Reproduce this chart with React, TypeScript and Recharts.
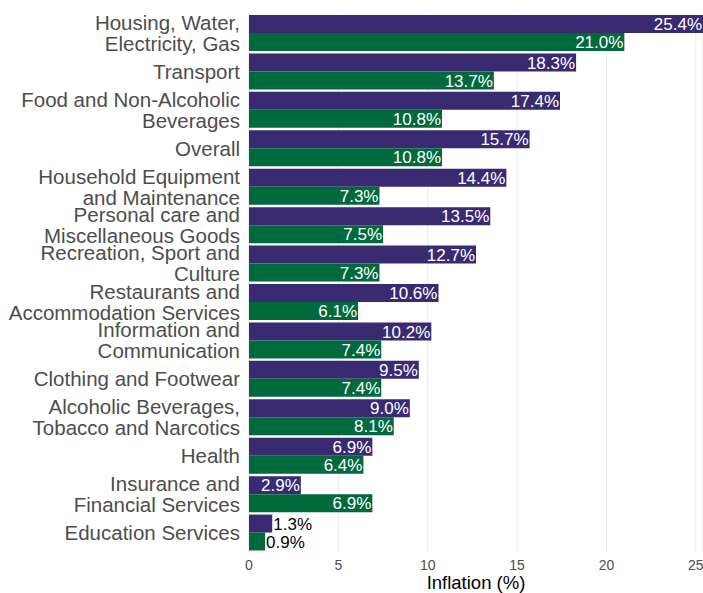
import React from "react"
import {
  BarChart,
  Bar,
  XAxis,
  YAxis,
  CartesianGrid,
  LabelList,
  Label,
} from "recharts"

// categories, top to bottom
const categories = [
  "Housing, Water,\nElectricity, Gas",
  "Transport",
  "Food and Non-Alcoholic\nBeverages",
  "Overall",
  "Household Equipment\nand Maintenance",
  "Personal care and\nMiscellaneous Goods",
  "Recreation, Sport and\nCulture",
  "Restaurants and\nAccommodation Services",
  "Information and\nCommunication",
  "Clothing and Footwear",
  "Alcoholic Beverages,\nTobacco and Narcotics",
  "Health",
  "Insurance and\nFinancial Services",
  "Education Services",
]

const firstPeriod = [25.4, 18.3, 17.4, 15.7, 14.4, 13.5, 12.7, 10.6, 10.2, 9.5, 9.0, 6.9, 2.9, 1.3]
const secondPeriod = [21.0, 13.7, 10.8, 10.8, 7.3, 7.5, 7.3, 6.1, 7.4, 7.4, 8.1, 6.4, 6.9, 0.9]

const xTicks = [0, 5, 10, 15, 20, 25]
const minorGrid = [2.5, 7.5, 12.5, 17.5, 22.5]

const PURPLE = "#3a2a72"
const GREEN = "#006a3d"
const FONT = "'Liberation Sans', Arial, Helvetica, sans-serif"

const data = categories.map((name, i) => ({
  name,
  first: firstPeriod[i],
  second: secondPeriod[i],
}))

function CategoryTick(props: any) {
  const { x, y, payload } = props
  const lines = String(payload.value).split("\n")
  const lh = 21
  const start = -((lines.length - 1) * lh) / 2
  return (
    <text x={x} y={y} textAnchor="end" fill="#4d4d4d" fontSize={20.5} fontFamily={FONT}>
      {lines.map((line, i) => (
        <tspan key={i} x={x - 1} y={y + start + i * lh} dy="0.35em">
          {line}
        </tspan>
      ))}
    </text>
  )
}

function ValueLabel(props: any) {
  const x = Number(props.x)
  const y = Number(props.y)
  const width = Number(props.width)
  const height = Number(props.height)
  const value = Number(props.value)
  const inside = value >= 2
  const end = x + width
  return (
    <text
      x={inside ? end - 1 : end + 1}
      y={y + height / 2}
      dy="0.36em"
      textAnchor={inside ? "end" : "start"}
      fill={inside ? "#ffffff" : "#000000"}
      fontSize={17}
      fontFamily={FONT}
    >
      {value.toFixed(1)}%
    </text>
  )
}

export default function App() {
  return (
    <div style={{ position: "absolute", left: 0, top: 0, fontFamily: FONT, background: "#fff" }}>
      <BarChart
        width={703}
        height={593}
        data={data}
        layout="vertical"
        margin={{ top: 14, right: 0, bottom: 0, left: 0 }}
        barCategoryGap={1}
        barGap={0}
      >
        <CartesianGrid
          xAxisId="minor"
          horizontal={false}
          stroke="#ebebeb"
          strokeWidth={0.7}
        />
        <CartesianGrid horizontal={false} stroke="#ebebeb" strokeWidth={1.2} />
        <XAxis
          xAxisId="minor"
          type="number"
          domain={[0, 25.4]}
          ticks={minorGrid}
          hide
        />
        <XAxis
          type="number"
          domain={[0, 25.4]}
          ticks={xTicks}
          axisLine={false}
          tickLine={false}
          height={41}
          tick={{ fill: "#4d4d4d", fontSize: 14 }}
        >
          <Label
            value="Inflation (%)"
            position="insideBottom"
            offset={4}
            fill="#000"
            fontSize={18.5}
          />
        </XAxis>
        <YAxis
          type="category"
          dataKey="name"
          width={249}
          interval={0}
          axisLine={false}
          tickLine={false}
          tick={<CategoryTick />}
        />
        <Bar dataKey="first" fill={PURPLE} isAnimationActive={false}>
          <LabelList dataKey="first" content={<ValueLabel />} />
        </Bar>
        <Bar dataKey="second" fill={GREEN} isAnimationActive={false}>
          <LabelList dataKey="second" content={<ValueLabel />} />
        </Bar>
      </BarChart>
    </div>
  )
}
